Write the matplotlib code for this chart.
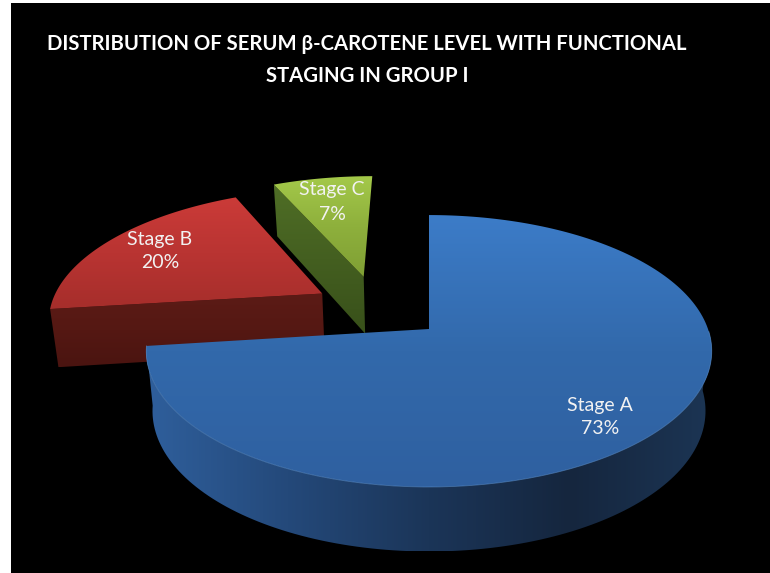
import numpy as np
import matplotlib
matplotlib.use('Agg')
import matplotlib.pyplot as plt
from matplotlib.colors import LinearSegmentedColormap
from matplotlib.patches import Polygon

stages = ['Stage A', 'Stage B', 'Stage C']
shares = [73, 20, 7]
title_lines = 'DISTRIBUTION OF SERUM β-CAROTENE LEVEL WITH FUNCTIONAL\nSTAGING IN GROUP I'

# how far each slice is pulled out of the pie (unit disc)
pull_u = [0.0, -0.40, -0.25]
pull_v = [0.0, 0.28, 0.42]

top_colors = [['#3c7cc8', '#3269ab', '#2f60a0'],
              ['#cb3b38', '#b93432', '#a62e2b'],
              ['#a4c94a', '#8eb03c', '#7f9f34']]
side_colors = [['#2f5f9c', '#24497a', '#1b3558', '#15263e', '#1c3554'],
               ['#5c1b16', '#551813', '#4a1410'],
               ['#4f6e26', '#445f20', '#38501a']]
label_at = [(600, 417), (160, 251), (332, 202)]

W, H = 770, 573
X0, Y0, A, B, K = 429, 329, 279, 132.4, 0.162
layer = [2]


def project(u, v, drop=False):
    # perspective view of the disc, optionally on the lower face
    u, v = np.asarray(u, float), np.asarray(v, float)
    x = X0 + A * u / (1 + K * v)
    y = Y0 - B * v / (1 + K * v)
    if drop:
        x = X0 + (x - X0) * 0.978
        y = y + 59 - 5.5 * v
    return np.column_stack([x, y])


def shaded(ax, pts, colors, horizontal=False):
    poly = Polygon(pts, closed=True, fc='none', ec='none')
    ax.add_patch(poly)
    cmap = LinearSegmentedColormap.from_list('shade', colors)
    grad = np.linspace(0, 1, 256)
    grad = grad.reshape(1, -1) if horizontal else grad.reshape(-1, 1)
    x0, y0 = pts.min(axis=0)
    x1, y1 = pts.max(axis=0)
    im = ax.imshow(grad, cmap=cmap, extent=(x0, x1, y1, y0), aspect='auto', zorder=layer[0])
    layer[0] += 1
    im.set_clip_path(poly)


def wall(ax, u, v, colors, horizontal=False):
    pts = np.vstack([project(u, v), project(u, v, drop=True)[::-1]])
    shaded(ax, pts, colors, horizontal)


fig = plt.figure(figsize=(W / 100, H / 100), dpi=100, facecolor='white')
ax = fig.add_axes([11 / W, 0, (W - 11) / W, (H - 3) / H], facecolor='black')

plt.rcParams['font.family'] = ['Lato', 'DejaVu Sans']

# clockwise from twelve o'clock
edges = np.cumsum([0] + shares) / sum(shares) * 2 * np.pi

# far slices first so Stage A ends up in front
for i in [2, 1, 0]:
    a0, a1 = edges[i], edges[i + 1]
    du, dv = pull_u[i], pull_v[i]
    arc = np.linspace(a0, a1, 200)
    arc_u, arc_v = np.sin(arc) + du, np.cos(arc) + dv

    # cut face on the leading edge of the slice
    wall(ax, [du, np.sin(a0) + du], [dv, np.cos(a0) + dv], side_colors[i])

    # outer rim, only the big slice shows it
    if i == 0:
        rim = arc > np.pi / 2
        wall(ax, arc_u[rim], arc_v[rim], side_colors[i], horizontal=True)

    pts = project(np.r_[du, arc_u], np.r_[dv, arc_v])
    shaded(ax, pts, top_colors[i])

    if i == 0:
        edge = project(arc_u[rim], arc_v[rim])
        ax.plot(edge[:, 0], edge[:, 1], color='#5f93cf', lw=0.6, alpha=0.6, zorder=layer[0])
        layer[0] += 1

for name, share, (tx, ty) in zip(stages, shares, label_at):
    ax.text(tx, ty, f'{name}\n{share}%', color='#f2f2f2', ha='center', va='center',
            fontsize=14, linespacing=1.5, zorder=50)

ax.text(367, 60, title_lines, color='white', ha='center', va='center', fontsize=14.6,
        fontweight='bold', linespacing=1.75, zorder=50)

ax.set_xlim(11, W)
ax.set_ylim(H, 3)
ax.set_xticks([])
ax.set_yticks([])
for s in ax.spines.values():
    s.set_visible(False)

fig.savefig('out.png', dpi=100, facecolor='white')
plt.close()
